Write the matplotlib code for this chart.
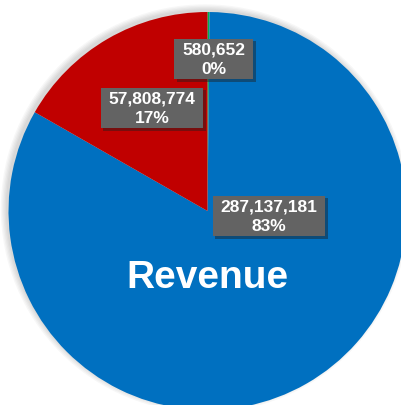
import matplotlib.pyplot as plt
from matplotlib.patches import Circle, Rectangle

plt.rcParams['font.family'] = ['Liberation Sans', 'DejaVu Sans']

names = ['Other', 'Revenue', 'Cost']
values = [580652, 287137181, 57808774]
colors = ['#00B050', '#0070C0', '#C00000']

W, H = 402, 405
cx, cy, r = 207.5, H - 211, 199
# label centres in pixel coords (from top-left), same order as values
label_pos = [(214, 60), (269, 217), (152, 109)]

fig = plt.figure(figsize=(W / 100, H / 100), dpi=100)
ax = fig.add_axes([0, 0, 1, 1])

# soft shadow, mostly up and to the left
for i in range(5):
    ax.add_patch(Circle((cx - 2.5, cy + 2.5), r + i * 1.3, color='black',
                        alpha=0.03, lw=0, zorder=0))

ax.pie(values, colors=colors, startangle=90, counterclock=False,
       center=(cx, cy), radius=r, frame=True,
       wedgeprops=dict(linewidth=0))
ax.set_xlim(0, W)
ax.set_ylim(0, H)
ax.set_aspect('equal')
ax.axis('off')

total = sum(values)
texts = []
for v, (lx, ly) in zip(values, label_pos):
    pct = round(v / total * 100)
    t = ax.text(lx, H - ly, f'{v:,}\n{pct}%', ha='center', va='center',
                color='white', fontsize=12.5, fontweight='bold',
                linespacing=1.35, zorder=5)
    texts.append(t)

# grey label boxes with a drop shadow, sized to the text
fig.canvas.draw()
renderer = fig.canvas.get_renderer()
for t in texts:
    bb = t.get_window_extent(renderer)
    x0, y0 = bb.x0 - 8, bb.y0 - 2
    w, h = bb.width + 16, bb.height + 6
    ax.add_patch(Rectangle((x0 + 2.5, y0 - 2.5), w, h, color='#202020',
                           alpha=0.45, lw=0, zorder=3))
    ax.add_patch(Rectangle((x0, y0), w, h, color='#636363', lw=0, zorder=4))

ax.text(207, H - 278, 'Revenue', ha='center', va='center', color='white',
        fontsize=28, fontweight='bold', zorder=5)

plt.savefig('out.png', dpi=100)
